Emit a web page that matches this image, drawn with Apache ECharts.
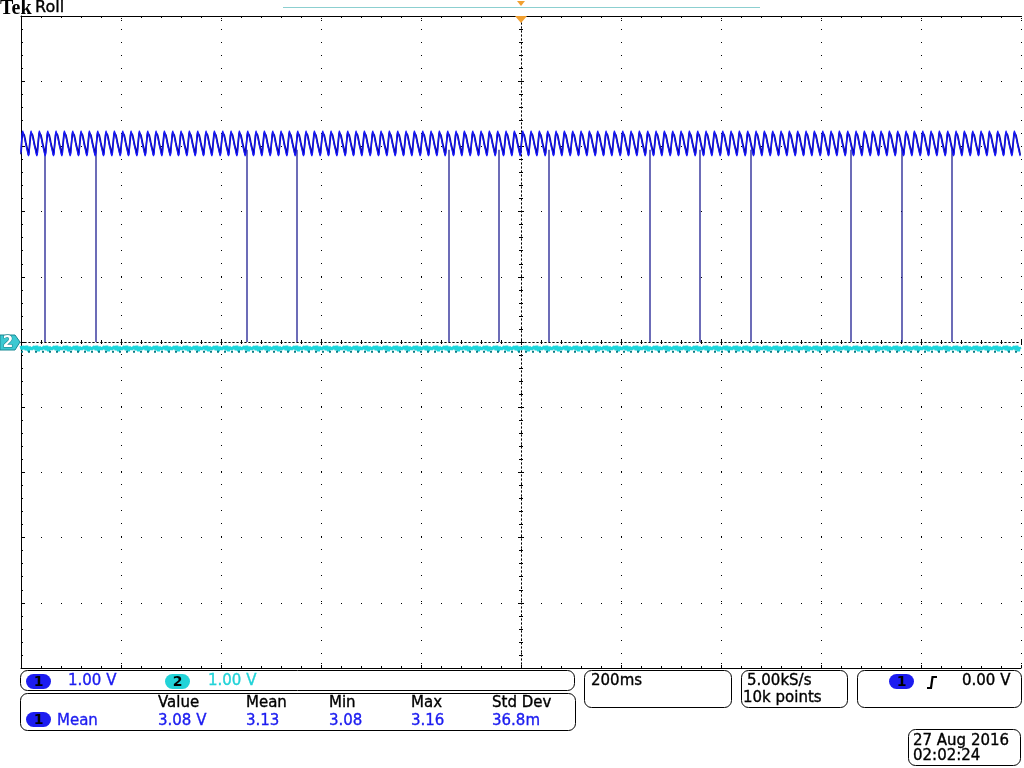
<!DOCTYPE html>
<html><head><meta charset="utf-8">
<script src="https://cdn.jsdelivr.net/npm/echarts@6/dist/echarts.min.js"></script>
<style>html,body{margin:0;padding:0;background:#fff}#c{width:1024px;height:768px}</style>
</head><body><div id="c"></div>
<script>
const timeMin = -1000, timeMax = 1000, timeDiv = 200;   // ms, 200 ms/div
const voltMin = -5, voltMax = 5, voltDiv = 1;           // V, 1.00 V/div
const ripplePeriodMs = 16.667;                          // one ripple cycle (~8.3 px)
const ch1ProfileNavy = [2.88, 3.10, 3.21, 3.22, 3.17, 3.11, 3.04, 2.99, 2.94, 2.87];
const ch1ProfileBlue = [2.91, 3.16, 3.24, 3.19, 3.14, 3.08, 3.01, 2.96, 2.90, 2.85];
const ch2Profile = [-0.06, -0.11, -0.08, -0.13, -0.07, -0.10, -0.12, -0.06, -0.09, -0.14, -0.08, -0.11];
const ch2LowLevel = -0.15;
const spikeTimesMs = [-952, -850, -548, -448, -144, -44, 56, 258, 358, 460, 660, 762, 862];
const spikeTopV = 2.95, spikeBottomV = 0.0;
const channelScales = ['1.00 V', '1.00 V'];
const measureHeaders = ['Value', 'Mean', 'Min', 'Max', 'Std Dev'];
const measureValues = ['3.08 V', '3.13', '3.08', '3.16', '36.8m'];
const measureName = 'Mean';
const timeScaleText = '200ms';
const sampleRateText = ['5.00kS/s', '10k points'];
const triggerLevelText = '0.00 V';
const dateText = ['27 Aug 2016', '02:02:24'];

// ---- build series from the arrays ----
function repeatProfile(profile, periodMs) {
  const step = periodMs / profile.length;
  const out = [];
  let i = 0;
  for (let t = timeMin; t <= timeMax; t += step, i++) out.push([t, profile[i % profile.length]]);
  return out;
}
const ch1Navy = repeatProfile(ch1ProfileNavy, ripplePeriodMs);
const ch1Blue = repeatProfile(ch1ProfileBlue, ripplePeriodMs);
const ch2Data = repeatProfile(ch2Profile, 20);
const ch2Low = [[timeMin, ch2LowLevel], [timeMax, ch2LowLevel]];
const spikeData = [];
spikeTimesMs.forEach(t => { spikeData.push([t, spikeTopV], [t, spikeBottomV], [t, '-']); });

const FONT = '"DejaVu Sans", sans-serif';
const BLUE = '#1c1cf0', CYAN = '#22d3d8';

function borderAxisX(pos, extra) {
  return Object.assign({
    type: 'value', min: timeMin, max: timeMax, interval: timeDiv, position: pos,
    axisLine: { show: true, onZero: false, lineStyle: { color: '#000', width: 1 } },
    axisTick: { show: true, inside: true, length: 5, lineStyle: { color: '#000', type: [1, 1] } },
    minorTick: { show: true, splitNumber: 5, length: 2, lineStyle: { color: '#000' } },
    axisLabel: { show: false }, splitLine: { show: false }
  }, extra || {});
}
function centerAxisX(inside) {
  return {
    type: 'value', min: timeMin, max: timeMax, interval: timeDiv, position: 'bottom',
    axisLine: { show: true, onZero: true, onZeroAxisIndex: 0, lineStyle: { color: '#000', width: 1, type: [1, 3] } },
    axisTick: { show: true, inside: inside, length: 3, lineStyle: { color: '#000' } },
    minorTick: { show: true, splitNumber: 5, length: 2, lineStyle: { color: '#000' } },
    axisLabel: { show: false }, splitLine: { show: false }
  };
}
function centerAxisY(inside) {
  return {
    type: 'value', min: voltMin, max: voltMax, interval: voltDiv, position: 'left',
    axisLine: { show: true, onZero: true, onZeroAxisIndex: 0, lineStyle: { color: '#000', width: 1, type: [1, 3] } },
    axisTick: { show: true, inside: inside, length: 3, lineStyle: { color: '#000' } },
    minorTick: { show: true, splitNumber: 5, length: 2, lineStyle: { color: '#000' } },
    axisLabel: { show: false }, splitLine: { show: false }
  };
}

function box(x, y, w, h) {
  return { type: 'rect', shape: { x: x + 0.5, y: y + 0.5, width: w, height: h, r: 7 },
    style: { fill: '#fff', stroke: '#000', lineWidth: 1 }, z: 1 };
}
function txt(x, y, s, color, extra) {
  return { type: 'text', x: x, y: y, z: 3,
    style: Object.assign({ text: s, fill: color || '#000', stroke: color || '#000', lineWidth: 0.35,
      font: '15px ' + FONT, verticalAlign: 'top' }, extra || {}) };
}
function oval(x, y, w, h, fill, label) {
  return [
    { type: 'rect', shape: { x: x, y: y, width: w, height: h, r: h / 2 }, style: { fill: fill }, z: 2 },
    { type: 'text', x: x + w / 2, y: y + h / 2 + 1, z: 3,
      style: { text: label, fill: '#000', font: 'bold 14px ' + FONT, align: 'center', verticalAlign: 'middle' } }
  ];
}

const hdrX = [158, 246, 329, 411, 492];
const graphics = [
  // header
  { type: 'text', x: 0, y: -1, style: { text: 'Tek', fill: '#000', font: 'bold 20px "Liberation Serif", "DejaVu Serif", serif', verticalAlign: 'top' } },
  { type: 'text', x: 35, y: 0, style: { text: 'Roll', fill: '#000', stroke: '#000', lineWidth: 0.35, font: '16px ' + FONT, verticalAlign: 'top' } },
  { type: 'line', shape: { x1: 283, y1: 7.5, x2: 760, y2: 7.5 }, style: { stroke: '#8ccfd0', lineWidth: 1 } },
  { type: 'polygon', shape: { points: [[517, 1], [525, 1], [521, 6]] }, style: { fill: '#f2a030' }, z: 5 },
  { type: 'polygon', shape: { points: [[515, 16], [527, 16], [521, 23]] }, style: { fill: '#f2a030' }, z: 5 },
  // ch2 ground marker
  { type: 'polygon', shape: { points: [[0, 335], [15, 335], [20, 342], [15, 350], [0, 350]] },
    style: { fill: '#3cc9d2', stroke: '#1a8a94', lineWidth: 1 }, z: 5 },
  { type: 'text', x: 8, y: 343, z: 6, style: { text: '2', fill: '#fff', stroke: '#137c86', lineWidth: 1,
      font: 'bold 15px ' + FONT, align: 'center', verticalAlign: 'middle' } },
  // bottom panels
  box(20, 670, 554, 20),
  box(20, 693, 555, 37),
  box(584, 670, 147, 37),
  box(741, 670, 106, 37),
  box(857, 670, 164, 37),
  box(908, 729, 112, 36),
  ...oval(26, 674, 25, 15, BLUE, '1'),
  txt(68, 674, channelScales[0], BLUE),
  ...oval(165, 674, 25, 15, CYAN, '2'),
  txt(208, 674, channelScales[1], CYAN),
  ...measureHeaders.map((h, i) => txt(hdrX[i], 696, h, '#000')),
  ...oval(26, 712, 25, 15, BLUE, '1'),
  txt(57, 714, measureName, BLUE),
  ...measureValues.map((v, i) => txt(hdrX[i], 714, v, BLUE)),
  txt(591, 674, timeScaleText),
  txt(747, 674, sampleRateText[0]),
  txt(743, 691, sampleRateText[1]),
  ...oval(889, 674, 25, 15, BLUE, '1'),
  { type: 'polyline', shape: { points: [[927, 688], [931, 688], [932.5, 677], [937, 677]] },
    style: { stroke: '#000', lineWidth: 2.2, fill: null }, z: 3 },
  txt(962, 674, triggerLevelText),
  txt(913, 734, dateText[0]),
  txt(913, 749, dateText[1])
];

const chart = echarts.init(document.getElementById('c'), null, { renderer: 'canvas' });
chart.setOption({
  animation: false,
  backgroundColor: '#fff',
  grid: { left: 21, top: 16, width: 1000, height: 652, containLabel: false },
  xAxis: [
    borderAxisX('bottom', {
      splitLine: { show: true, lineStyle: { color: '#000', width: 1, type: [1, 12] } }
    }),
    borderAxisX('top'),
    centerAxisX(true),
    centerAxisX(false)
  ],
  yAxis: [
    {
      type: 'value', min: voltMin, max: voltMax, interval: voltDiv, position: 'left',
      axisLine: { show: true, onZero: false, lineStyle: { color: '#000', width: 1 } },
      axisTick: { show: true, inside: true, length: 4, lineStyle: { color: '#000' } },
      minorTick: { show: true, splitNumber: 5, length: 2, lineStyle: { color: '#000' } },
      axisLabel: { show: false },
      splitLine: { show: true, lineStyle: { color: '#000', width: 1, type: [1, 19] } }
    },
    centerAxisY(true),
    centerAxisY(false)
  ],
  series: [
    { name: 'CH2', type: 'line', data: ch2Data, showSymbol: false, symbol: 'none',
      lineStyle: { color: '#1fd6dc', width: 3 }, z: 3 },
    { name: 'CH2 low', type: 'line', data: ch2Low, showSymbol: false, symbol: 'none',
      lineStyle: { color: '#0b7d86', width: 2, type: [2, 5] }, z: 4 },
    { name: 'CH1 spikes', type: 'line', data: spikeData, showSymbol: false, symbol: 'none', connectNulls: false,
      lineStyle: { color: '#0a0a88', width: 1.2 }, z: 5 },
    { name: 'CH1 a', type: 'line', data: ch1Navy, showSymbol: false, symbol: 'none',
      lineStyle: { color: '#0a0a86', width: 1.7 }, z: 6 },
    { name: 'CH1 b', type: 'line', data: ch1Blue, showSymbol: false, symbol: 'none',
      lineStyle: { color: '#1616ff', width: 1.2 }, z: 7 }
  ],
  graphic: graphics
});
</script></body></html>
